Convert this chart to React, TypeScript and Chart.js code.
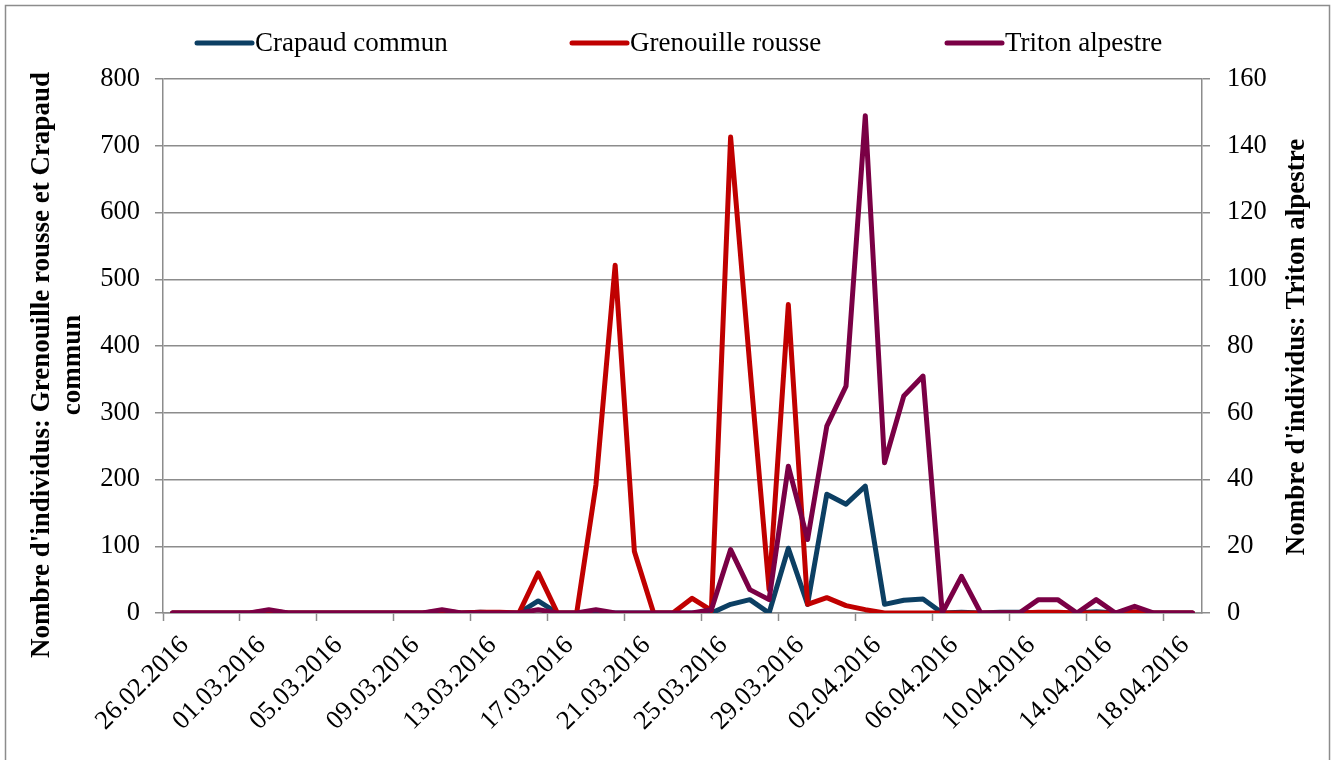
import React, { useEffect, useRef } from 'react';
import { Chart, registerables } from 'chart.js';

Chart.register(...registerables);

const dates = [
  '26.02.2016', '27.02.2016', '28.02.2016', '29.02.2016', '01.03.2016', '02.03.2016', '03.03.2016', '04.03.2016',
  '05.03.2016', '06.03.2016', '07.03.2016', '08.03.2016', '09.03.2016', '10.03.2016', '11.03.2016', '12.03.2016',
  '13.03.2016', '14.03.2016', '15.03.2016', '16.03.2016', '17.03.2016', '18.03.2016', '19.03.2016', '20.03.2016',
  '21.03.2016', '22.03.2016', '23.03.2016', '24.03.2016', '25.03.2016', '26.03.2016', '27.03.2016', '28.03.2016',
  '29.03.2016', '30.03.2016', '31.03.2016', '01.04.2016', '02.04.2016', '03.04.2016', '04.04.2016', '05.04.2016',
  '06.04.2016', '07.04.2016', '08.04.2016', '09.04.2016', '10.04.2016', '11.04.2016', '12.04.2016', '13.04.2016',
  '14.04.2016', '15.04.2016', '16.04.2016', '17.04.2016', '18.04.2016', '19.04.2016',
];

const crapaudCommun = [
  0, 0, 0, 0, 0, 0, 0, 0, 0, 0, 0, 0, 0, 0, 0, 0,
  1, 0, 0, 18, 0, 0, 0, 0, 0, 0, 0, 0, 0, 13, 20, 0,
  97, 13, 178, 163, 190, 13, 19, 21, 0, 1, 0, 1, 1, 0, 0, 0,
  2, 0, 0, 0, 0, 0,
];

const grenouilleRousse = [
  0, 0, 0, 0, 0, 3, 0, 0, 0, 0, 0, 0, 0, 0, 3, 0,
  1, 1, 0, 60, 0, 0, 192, 521, 92, 0, 0, 22, 4, 713, 370, 35,
  462, 13, 23, 11, 5, 0, 0, 0, 0, 0, 0, 0, 0, 1, 1, 0,
  0, 0, 2, 0, 0, 0,
];

const tritonAlpestre = [
  0, 0, 0, 0, 0, 1, 0, 0, 0, 0, 0, 0, 0, 0, 1, 0,
  0, 0, 0, 1, 0, 0, 1, 0, 0, 0, 0, 0, 1, 19, 7, 4,
  44, 22, 56, 68, 149, 45, 65, 71, 0, 11, 0, 0, 0, 4, 4, 0,
  4, 0, 2, 0, 0, 0,
];

const seriesNames = ['Crapaud commun', 'Grenouille rousse', 'Triton alpestre'];
const seriesColors = ['#0C3F63', '#C00000', '#7A0045'];
const leftAxisTitle = ["Nombre d'individus: Grenouille rousse et Crapaud", 'commun'];
const rightAxisTitle = "Nombre d'individus: Triton alpestre";

const FONT = "'Liberation Serif', 'Times New Roman', serif";
const GRID = '#8c8c8c';
const TICK_SIZE = 26.5;
const TEXT_SIZE = 27;
const LINE_W = 5;

const framePlugin = {
  id: 'frame',
  beforeDraw(chart: any) {
    const { ctx, width, height } = chart;
    ctx.save();
    ctx.fillStyle = '#ffffff';
    ctx.fillRect(0, 0, width, height);
    ctx.strokeStyle = GRID;
    ctx.lineWidth = 1.5;
    ctx.strokeRect(5.5, 5.5, width - 13, height + 10);
    ctx.restore();
  },
};

const legendPlugin = {
  id: 'excelLegend',
  afterDraw(chart: any) {
    const { ctx } = chart;
    const startX = 197;
    const step = 375;
    const lineLen = 55;
    const y = 43;
    ctx.save();
    ctx.font = `${TEXT_SIZE}px ${FONT}`;
    ctx.textBaseline = 'middle';
    ctx.textAlign = 'left';
    chart.data.datasets.forEach((ds: any, i: number) => {
      const x = startX + i * step;
      ctx.strokeStyle = ds.borderColor;
      ctx.lineWidth = LINE_W;
      ctx.lineCap = 'round';
      ctx.beginPath();
      ctx.moveTo(x, y);
      ctx.lineTo(x + lineLen, y);
      ctx.stroke();
      ctx.fillStyle = '#000';
      ctx.fillText(ds.label, x + lineLen + 3, y + 1);
    });
    ctx.restore();
  },
};

const axisTitlesPlugin = {
  id: 'axisTitles',
  afterDraw(chart: any) {
    const { ctx, chartArea } = chart;
    const midY = (chartArea.top + chartArea.bottom) / 2;
    ctx.save();
    ctx.font = `bold ${TEXT_SIZE}px ${FONT}`;
    ctx.fillStyle = '#000';
    ctx.textAlign = 'center';
    ctx.textBaseline = 'middle';
    // left title (two lines)
    ctx.save();
    ctx.translate(chart.scales.y.left + 42, midY + 19);
    ctx.rotate(-Math.PI / 2);
    leftAxisTitle.forEach((line, i) => ctx.fillText(line, 0, i * 31));
    ctx.restore();
    // right title
    ctx.save();
    ctx.translate(chart.scales.y1.right - 40, midY + 1);
    ctx.rotate(-Math.PI / 2);
    ctx.fillText(rightAxisTitle, 0, 0);
    ctx.restore();
    ctx.restore();
  },
};

export default function App() {
  const canvasRef = useRef<HTMLCanvasElement | null>(null);

  useEffect(() => {
    if (!canvasRef.current) return;
    const tickFont = { family: FONT, size: TICK_SIZE };
    const chart = new Chart(canvasRef.current, {
      type: 'line',
      data: {
        labels: dates,
        datasets: [
          { label: seriesNames[0], data: crapaudCommun, borderColor: seriesColors[0], backgroundColor: seriesColors[0], yAxisID: 'y', order: 2 },
          { label: seriesNames[1], data: grenouilleRousse, borderColor: seriesColors[1], backgroundColor: seriesColors[1], yAxisID: 'y', order: 1 },
          { label: seriesNames[2], data: tritonAlpestre, borderColor: seriesColors[2], backgroundColor: seriesColors[2], yAxisID: 'y1', order: 0 },
        ],
      },
      options: {
        animation: false,
        responsive: false,
        maintainAspectRatio: false,
        layout: { padding: { top: 79, left: 0, right: 0, bottom: 0 } },
        plugins: { legend: { display: false }, tooltip: { enabled: false } },
        elements: {
          point: { radius: 0, hoverRadius: 0 },
          line: { borderWidth: LINE_W, tension: 0, borderJoinStyle: 'round', borderCapStyle: 'round', fill: false },
        },
        scales: {
          x: {
            type: 'category',
            offset: true,
            grid: {
              offset: true,
              drawOnChartArea: false,
              drawTicks: true,
              tickLength: 8,
              tickWidth: 1.5,
              tickColor: (c: any) => (c.index % 4 === 0 ? GRID : 'rgba(0,0,0,0)'),
            },
            border: { display: true, color: GRID, width: 1.5 },
            ticks: {
              autoSkip: false,
              minRotation: 45,
              maxRotation: 45,
              labelOffset: 12,
              padding: 9,
              color: '#000',
              font: tickFont,
              callback: (_v: any, i: number) => (i % 4 === 0 ? dates[i] : ''),
            },
            afterFit: (s: any) => { s.height = 147; },
          },
          y: {
            position: 'left',
            min: 0,
            max: 800,
            ticks: { stepSize: 100, padding: 15, color: '#000', font: tickFont },
            grid: { color: GRID, lineWidth: 1.5, tickLength: 8, tickColor: GRID },
            border: { display: true, color: GRID, width: 1.5 },
            afterFit: (s: any) => { s.width = 163; },
          },
          y1: {
            position: 'right',
            min: 0,
            max: 160,
            ticks: { stepSize: 20, padding: 17, color: '#000', font: tickFont },
            grid: { drawOnChartArea: false, tickLength: 8, tickColor: GRID, lineWidth: 1.5 },
            border: { display: true, color: GRID, width: 1.5 },
            afterFit: (s: any) => { s.width = 135; },
          },
        },
      } as any,
      plugins: [framePlugin, legendPlugin, axisTitlesPlugin],
    });
    return () => chart.destroy();
  }, []);

  return (
    <div style={{ position: 'absolute', left: 0, top: 0, width: 1337, height: 760 }}>
      <canvas ref={canvasRef} width={1337} height={760} style={{ display: 'block' }} />
    </div>
  );
}
